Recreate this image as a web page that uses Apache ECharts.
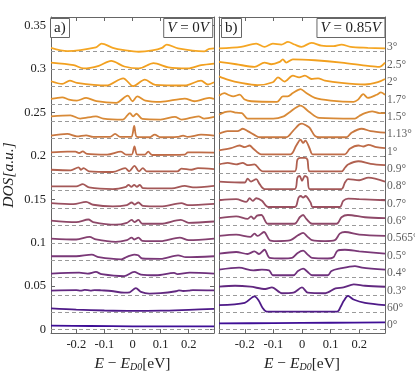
<!DOCTYPE html>
<html>
<head>
<meta charset="utf-8">
<script src="https://cdn.jsdelivr.net/npm/echarts@6/dist/echarts.min.js"></script>
<style>
html, body { margin: 0; padding: 0; background: #fff; }
#main { width: 415px; height: 377px; }
</style>
</head>
<body>
<div id="main"></div>
<script>
// twist angles, bottom to top, and vertical shift of each curve
var angles = ['0°', '60°', '0.3°', '0.4°', '0.5°', '0.565°', '0.6°', '0.7°', '0.8°', '0.9°', '1°', '1.13°', '1.5°', '1.7°', '2°', '2.5°', '3°'];
var offsets = [0, 0.02, 0.04, 0.06, 0.08, 0.10, 0.12, 0.14, 0.16, 0.18, 0.20, 0.22, 0.24, 0.26, 0.28, 0.30, 0.32];
var colors = ['#3e0e96', '#4e1a88', '#622880', '#6e307c', '#7a3878', '#844070', '#8e4868', '#9a5060', '#a45858',
  '#b0604f', '#bf6c48', '#c97840', '#d88a38', '#e0902e', '#ee9b22', '#f2a01e', '#f5a623'];

var xTicks = [-0.2, -0.1, 0, 0.1, 0.2];
var yTicks = [0, 0.05, 0.1, 0.15, 0.2, 0.25, 0.3, 0.35];

// a) V = 0V : [E, DOS above its baseline]
var L_0 = [[-0.29, 0.0045], [-0.15, 0.0042], [0, 0.0038], [0.15, 0.0038], [0.29, 0.0038]];
var L_60 = [[-0.29, 0.0045], [-0.2, 0.003], [-0.1, 0.002], [0, 0.0015], [0.1, 0.0018], [0.2, 0.0028], [0.29, 0.0038]];
var L_03 = [[-0.29, 0.005], [-0.2, 0.0055], [-0.185, 0.0048], [-0.17, 0.0058], [-0.15, 0.005], [-0.135, 0.0056], [-0.11, 0.0052],
  [-0.075, 0.0045], [-0.03, 0.0025], [-0.01, 0.003], [0.012, 0.0078], [0.03, 0.0035], [0.06, 0.0015], [0.1, 0.002],
  [0.155, 0.0042], [0.165, 0.0052], [0.18, 0.0045], [0.2, 0.0048], [0.215, 0.0055], [0.29, 0.0052]];
var L_04 = [[-0.29, 0.0045], [-0.19, 0.0056], [-0.16, 0.0045], [-0.13, 0.0064], [-0.11, 0.0038], [-0.03, 0.0015], [0.006, 0.0064],
  [0.03, 0.0034], [0.085, 0.0026], [0.148, 0.0053], [0.16, 0.0038], [0.203, 0.0056], [0.29, 0.0045]];
var L_05 = [[-0.29, 0.0045], [-0.2, 0.0045], [-0.145, 0.0064], [-0.12, 0.0034], [-0.04, 0.001], [-0.02, 0.0038], [0.006, 0.0064],
  [0.02, 0.0056], [0.035, 0.0019], [0.1, 0.0015], [0.162, 0.0056], [0.19, 0.0034], [0.29, 0.0045]];
var L_0565 = [[-0.29, 0.0049], [-0.2, 0.0038], [-0.153, 0.0068], [-0.13, 0.0038], [-0.06, 0.0011], [-0.02, 0.003], [-0.003, 0.006],
  [0.007, 0.0038], [0.021, 0.006], [0.035, 0.0023], [0.1, 0.0019], [0.168, 0.006], [0.2, 0.003], [0.29, 0.0049]];
var L_06 = [[-0.29, 0.0056], [-0.2, 0.0038], [-0.157, 0.0068], [-0.14, 0.0038], [-0.06, 0.0008], [-0.02, 0.003], [-0.003, 0.0064],
  [0.007, 0.0038], [0.021, 0.0064], [0.035, 0.0019], [0.1, 0.0019], [0.172, 0.0064], [0.2, 0.003], [0.29, 0.0045]];
var L_07 = [[-0.29, 0.0056], [-0.21, 0.0045], [-0.165, 0.0071], [-0.14, 0.0038], [-0.07, 0.0019], [-0.02, 0.0034], [-0.003, 0.0064],
  [0.007, 0.0041], [0.021, 0.0064], [0.037, 0.0026], [0.1, 0.0019], [0.174, 0.0056], [0.197, 0.0034], [0.29, 0.0049]];
var L_08 = [[-0.29, 0.0049], [-0.2, 0.0049], [-0.177, 0.0075], [-0.155, 0.0038], [-0.07, 0.0019], [-0.023, 0.0045], [-0.014, 0.0068],
  [-0.004, 0.0045], [0.006, 0.0068], [0.016, 0.0045], [0.026, 0.0068], [0.037, 0.003], [0.14, 0.0026], [0.186, 0.0056],
  [0.215, 0.0038], [0.29, 0.0056]];
var L_09 = [[-0.29, 0.0041], [-0.22, 0.0034], [-0.192, 0.0068], [-0.183, 0.0041], [-0.174, 0.006], [-0.155, 0.0023], [-0.07, 0.0015],
  [-0.026, 0.006], [-0.012, 0.0023], [0.007, 0.0086], [0.023, 0.0023], [0.037, 0.006], [0.05, 0.0023], [0.16, 0.0023],
  [0.174, 0.0053], [0.21, 0.0041], [0.233, 0.006], [0.29, 0.0049]];
var L_1 = [[-0.29, 0.0041], [-0.232, 0.0049], [-0.203, 0.0049], [-0.19, 0.0034], [-0.177, 0.0053], [-0.162, 0.0023], [-0.09, 0.0015],
  [-0.041, 0.0049], [-0.023, 0.0015], [-0.003, 0.0015], [0.007, 0.0109], [0.017, 0.0015], [0.044, 0.0015], [0.056, 0.0049],
  [0.07, 0.0011], [0.186, 0.0015], [0.197, 0.0041], [0.29, 0.0038]];
var L_113 = [[-0.29, 0.0034], [-0.232, 0.0053], [-0.198, 0.0026], [-0.165, 0.0038], [-0.14, 0.0019], [-0.08, 0.0019], [-0.062, 0.0053],
  [-0.044, 0.0019], [-0.005, 0.0019], [0.006, 0.0147], [0.016, 0.0019], [0.06, 0.0015], [0.079, 0.0045], [0.1, 0.0015],
  [0.16, 0.0019], [0.18, 0.0034], [0.197, 0.0019], [0.244, 0.0045], [0.29, 0.0034]];
var L_15 = [[-0.29, 0.0056], [-0.221, 0.0068], [-0.186, 0.003], [-0.13, 0.0056], [-0.104, 0.003], [-0.035, 0.0019], [-0.009, 0.0094],
  [0.002, 0.0056], [0.014, 0.0086], [0.035, 0.0026], [0.1, 0.0019], [0.151, 0.0049], [0.175, 0.0019], [0.235, 0.0056],
  [0.255, 0.003], [0.29, 0.0049]];
var L_17 = [[-0.29, 0.0056], [-0.25, 0.0075], [-0.226, 0.0049], [-0.198, 0.0038], [-0.165, 0.0068], [-0.128, 0.003], [-0.058, 0.0011],
  [-0.017, 0.0094], [0, 0.003], [0.017, 0.0086], [0.046, 0.0038], [0.1, 0.0023], [0.186, 0.006], [0.22, 0.003],
  [0.273, 0.0068], [0.29, 0.0056]];
var L_2 = [[-0.29, 0.006], [-0.25, 0.003], [-0.223, 0.0068], [-0.198, 0.0041], [-0.093, 0.0011], [-0.033, 0.0094], [0.002, 0.0004],
  [0.044, 0.0079], [0.081, 0.0019], [0.186, 0.0011], [0.244, 0.0068], [0.267, 0.0023], [0.29, 0.0049]];
var L_25 = [[-0.29, 0.0075], [-0.209, 0.0045], [-0.174, 0.0008], [-0.12, 0.0038], [-0.076, 0.0094], [-0.029, 0.003], [0.023, 0.0008],
  [0.075, 0.0068], [0.128, 0.0019], [0.197, 0.0008], [0.244, 0.0045], [0.29, 0.0064]];
var L_3 = [[-0.29, 0.0045], [-0.232, 0.0008], [-0.13, 0.005], [-0.11, 0.0094], [-0.07, 0.0045], [-0.03, 0.0019], [0.022, 0],
  [0.07, 0.0015], [0.105, 0.0045], [0.122, 0.0083], [0.162, 0.0038], [0.255, 0.0004], [0.273, 0.0034], [0.29, 0.0038]];

// b) V = 0.85V
var R_0 = [[-0.29, 0.0071], [-0.1, 0.0075], [0.1, 0.0079], [0.29, 0.0083]];
var R_60 = [[-0.29, 0.0083], [-0.2, 0.0109], [-0.166, 0.0184], [-0.152, 0.0139], [-0.138, 0.0053], [-0.123, 0.0008], [0.123, 0.0008],
  [0.135, 0.0064], [0.146, 0.0132], [0.161, 0.0188], [0.18, 0.0147], [0.22, 0.0109], [0.29, 0.0083]];
var R_03 = [[-0.29, 0.0094], [-0.234, 0.0105], [-0.18, 0.0094], [-0.128, 0.0068], [-0.105, 0.0086], [-0.07, 0.0019], [-0.03, 0.0026],
  [0, 0.0086], [0.02, 0.0026], [0.082, 0.0019], [0.117, 0.0075], [0.145, 0.0086], [0.181, 0.012], [0.22, 0.0105], [0.29, 0.0094]];
var R_04 = [[-0.29, 0.009], [-0.22, 0.0113], [-0.17, 0.0083], [-0.14, 0.009], [-0.115, 0.0083], [-0.102, 0.0026], [-0.03, 0.0026],
  [-0.014, 0.0075], [0.004, 0.0102], [0.02, 0.0064], [0.035, 0.0026], [0.09, 0.0026], [0.103, 0.0075], [0.13, 0.0102],
  [0.185, 0.0132], [0.21, 0.0113], [0.29, 0.009]];
var R_05 = [[-0.29, 0.0075], [-0.23, 0.0094], [-0.19, 0.0071], [-0.166, 0.0102], [-0.15, 0.0071], [-0.131, 0.012], [-0.113, 0.0026],
  [-0.07, 0.0019], [-0.035, 0.0026], [-0.015, 0.0083], [0.004, 0.0109], [0.02, 0.0064], [0.035, 0.0026], [0.09, 0.0019],
  [0.11, 0.0034], [0.124, 0.0109], [0.15, 0.012], [0.2, 0.0102], [0.29, 0.0075]];
var R_0565 = [[-0.29, 0.0079], [-0.23, 0.0094], [-0.18, 0.0068], [-0.166, 0.0105], [-0.155, 0.0079], [-0.133, 0.0124], [-0.113, 0.003],
  [-0.09, 0.0019], [-0.04, 0.003], [-0.014, 0.0086], [0.004, 0.0113], [0.02, 0.0068], [0.035, 0.003], [0.08, 0.0019],
  [0.115, 0.003], [0.132, 0.0105], [0.15, 0.0124], [0.2, 0.0094], [0.29, 0.0079]];
var R_06 = [[-0.29, 0.0083], [-0.23, 0.0105], [-0.19, 0.0075], [-0.178, 0.0105], [-0.168, 0.0075], [-0.157, 0.0113], [-0.142, 0.012],
  [-0.119, 0.0019], [-0.026, 0.0019], [-0.008, 0.0094], [0.004, 0.012], [0.015, 0.0075], [0.035, 0.0019], [0.121, 0.0019],
  [0.138, 0.0094], [0.16, 0.012], [0.22, 0.0094], [0.29, 0.0083]];
var R_07 = [[-0.29, 0.009], [-0.23, 0.0102], [-0.195, 0.0071], [-0.183, 0.0113], [-0.172, 0.0083], [-0.16, 0.0113], [-0.14, 0.0083],
  [-0.119, 0.0012], [-0.025, 0.0012], [-0.012, 0.012], [-0.004, 0.0139], [0.004, 0.012], [0.012, 0.0139], [0.03, 0.0064],
  [0.037, 0.0012], [0.132, 0.0012], [0.144, 0.0083], [0.161, 0.0109], [0.2, 0.0102], [0.29, 0.009]];
var R_08 = [[-0.29, 0.0105], [-0.2, 0.0094], [-0.19, 0.0139], [-0.178, 0.0105], [-0.16, 0.0132], [-0.148, 0.0075], [-0.131, 0.0019],
  [-0.026, 0.0019], [-0.016, 0.015], [-0.008, 0.0169], [0, 0.0113], [0.01, 0.0169], [0.019, 0.015], [0.027, 0.0019],
  [0.138, 0.0019], [0.15, 0.0094], [0.161, 0.0132], [0.2, 0.012], [0.232, 0.015], [0.29, 0.0105]];
var R_09 = [[-0.29, 0.0102], [-0.26, 0.012], [-0.23, 0.0102], [-0.207, 0.012], [-0.19, 0.0094], [-0.166, 0.0102], [-0.148, 0.0045],
  [-0.137, 0.0022], [-0.026, 0.0022], [-0.016, 0.0158], [-0.005, 0.0177], [0.01, 0.0177], [0.019, 0.0158], [0.027, 0.0022],
  [0.138, 0.0022], [0.15, 0.0064], [0.161, 0.0102], [0.197, 0.0139], [0.24, 0.0109], [0.29, 0.0094]];
var R_1 = [[-0.29, 0.0064], [-0.248, 0.009], [-0.218, 0.012], [-0.2, 0.0102], [-0.183, 0.012], [-0.17, 0.0083], [-0.142, 0.0019],
  [-0.04, 0.0019], [-0.02, 0.012], [-0.005, 0.0188], [0.004, 0.015], [0.012, 0.0177], [0.027, 0.0083], [0.037, 0.0019],
  [0.15, 0.0019], [0.167, 0.0083], [0.197, 0.012], [0.215, 0.0109], [0.232, 0.0128], [0.26, 0.0102], [0.29, 0.009]];
var R_113 = [[-0.29, 0.0056], [-0.26, 0.0086], [-0.225, 0.0086], [-0.207, 0.0113], [-0.19, 0.0086], [-0.16, 0.003], [-0.148, 0.0015],
  [-0.055, 0.0015], [-0.032, 0.0086], [-0.01, 0.0162], [0, 0.0173], [0.015, 0.015], [0.027, 0.0124], [0.045, 0.003],
  [0.06, 0.0015], [0.156, 0.0015], [0.173, 0.0068], [0.208, 0.0113], [0.24, 0.0086], [0.29, 0.0068]];
var R_15 = [[-0.29, 0.0075], [-0.27, 0.0105], [-0.25, 0.0113], [-0.23, 0.0098], [-0.21, 0.0094], [-0.19, 0.003], [-0.1, 0.003],
  [-0.064, 0.0056], [-0.047, 0.0094], [-0.005, 0.018], [0.023, 0.0113], [0.06, 0.0038], [0.185, 0.003], [0.2, 0.006],
  [0.22, 0.0094], [0.245, 0.0113], [0.27, 0.0094], [0.29, 0.0094]];
var R_17 = [[-0.29, 0.0094], [-0.271, 0.0124], [-0.258, 0.0105], [-0.24, 0.0086], [-0.218, 0.0105], [-0.2, 0.0049], [-0.177, 0.003],
  [-0.087, 0.0023], [-0.067, 0.0086], [-0.05, 0.0086], [-0.032, 0.0124], [-0.005, 0.0169], [0.015, 0.0124], [0.045, 0.0068],
  [0.1, 0.0038], [0.18, 0.0023], [0.196, 0.0049], [0.214, 0.0113], [0.23, 0.0068], [0.261, 0.0105], [0.276, 0.0132],
  [0.29, 0.0105]];
var R_2 = [[-0.29, 0.0117], [-0.26, 0.0079], [-0.213, 0.0041], [-0.155, 0.0015], [-0.102, 0.0049], [-0.084, 0.0105], [-0.061, 0.0056],
  [-0.032, 0.0124], [-0.01, 0.0105], [0.01, 0.0124], [0.033, 0.0086], [0.056, 0.0094], [0.08, 0.0068], [0.138, 0.0041],
  [0.22, 0.0023], [0.265, 0.0049], [0.29, 0.0086]];
var R_25 = [[-0.29, 0.0083], [-0.23, 0.0056], [-0.166, 0.0026], [-0.131, 0.0075], [-0.107, 0.0056], [-0.078, 0.0083], [-0.067, 0.0113],
  [-0.055, 0.0075], [-0.032, 0.0113], [0.045, 0.0102], [0.138, 0.0075], [0.23, 0.0038], [0.27, 0.0026], [0.29, 0.0075]];
var R_3 = [[-0.29, 0.0038], [-0.213, 0.0056], [-0.16, 0.0094], [-0.131, 0.0056], [-0.102, 0.0094], [-0.072, 0.0083], [-0.049, 0.0113],
  [-0.026, 0.0083], [-0.002, 0.0056], [0.033, 0.0102], [0.068, 0.0071], [0.11, 0.0064], [0.138, 0.0083], [0.17, 0.0056],
  [0.23, 0.0045], [0.29, 0.0038]];

var leftCurves = [L_0, L_60, L_03, L_04, L_05, L_0565, L_06, L_07, L_08, L_09, L_1, L_113, L_15, L_17, L_2, L_25, L_3];
var rightCurves = [R_0, R_60, R_03, R_04, R_05, R_0565, R_06, R_07, R_08, R_09, R_1, R_113, R_15, R_17, R_2, R_25, R_3];

var myChart = echarts.init(document.getElementById('main'));

var serif = 'Liberation Serif';
var frame = '#666';

function xAxisFor(grid, pos, labels, name) {
  return {
    type: 'value', gridIndex: grid, position: pos, min: -0.29, max: 0.29,
    axisLine: { show: true, onZero: false, lineStyle: { color: frame, width: 1 } },
    axisTick: { show: true, inside: true, length: 4, customValues: xTicks, lineStyle: { color: frame } },
    axisLabel: {
      show: labels, customValues: xTicks, margin: 5, fontFamily: serif, fontSize: 12.5, color: '#222',
      formatter: function (v) { return String(Math.round(v * 10) / 10); }
    },
    splitLine: { show: false },
    name: name ? '{i|E} − {i|E}{s|D0}[eV]' : '',
    nameLocation: 'middle', nameGap: 21,
    nameTextStyle: {
      fontFamily: serif, fontSize: 15.5, color: '#222',
      rich: {
        i: { fontFamily: serif, fontStyle: 'italic', fontSize: 15.5, color: '#222' },
        s: { fontFamily: serif, fontStyle: 'italic', fontSize: 10, color: '#222', verticalAlign: 'bottom', padding: [6, 0, 0, 0] }
      }
    }
  };
}

function yAxisFor(grid, pos, labels, name) {
  return {
    type: 'value', gridIndex: grid, position: pos, min: -0.004, max: 0.36,
    axisLine: { show: true, onZero: false, lineStyle: { color: frame, width: 1 } },
    axisTick: { show: true, inside: true, length: 4, customValues: yTicks, lineStyle: { color: frame } },
    axisLabel: {
      show: labels, customValues: yTicks, margin: 5, fontFamily: serif, fontSize: 12.5, color: '#222',
      formatter: function (v) { return String(Math.round(v * 100) / 100); }
    },
    splitLine: { show: false },
    name: name ? 'DOS[a.u.]' : '',
    nameLocation: 'middle', nameGap: 34, nameRotate: 90,
    nameTextStyle: { fontFamily: serif, fontStyle: 'italic', fontSize: 15.5, color: '#222' }
  };
}

var series = [];
[leftCurves, rightCurves].forEach(function (curves, p) {
  curves.forEach(function (curve, k) {
    series.push({
      type: 'line', xAxisIndex: p, yAxisIndex: p, z: 3,
      data: curve.map(function (pt) { return [pt[0], pt[1] + offsets[k]]; }),
      showSymbol: false, smooth: 0.3, silent: true,
      lineStyle: { color: colors[k], width: 1.8 },
      markLine: {
        silent: true, symbol: 'none', z: 2,
        label: { show: false },
        lineStyle: { color: '#9a9a9a', type: [4, 3], width: 1 },
        data: [{ yAxis: offsets[k] }]
      }
    });
  });
});

series.push({
  type: 'scatter', xAxisIndex: 1, yAxisIndex: 1, symbolSize: 0, silent: true,
  data: angles.map(function (a, k) { return [0.29, offsets[k] + 0.005, a]; }),
  label: {
    show: true, position: 'right', distance: 2,
    fontFamily: serif, fontSize: 11.5, color: '#333',
    formatter: function (p) { return p.value[2]; }
  }
});

var boxStyle = {
  top: 18, padding: [3, 4, 2, 4], borderColor: frame, borderWidth: 1, backgroundColor: '#fff',
  textStyle: {
    fontFamily: serif, fontSize: 15, fontWeight: 'normal', color: '#222',
    rich: { i: { fontFamily: serif, fontStyle: 'italic', fontSize: 15, color: '#222' } }
  }
};

myChart.setOption({
  animation: false,
  backgroundColor: '#fff',
  title: [
    Object.assign({ text: 'a)', left: 50 }, boxStyle),
    Object.assign({ text: '{i|V} = 0{i|V}', right: 202 }, boxStyle),
    Object.assign({ text: 'b)', left: 221 }, boxStyle),
    Object.assign({ text: '{i|V} = 0.85{i|V}', right: 30 }, boxStyle)
  ],
  grid: [
    { left: 48, top: 17, width: 166, height: 322 },
    { left: 219, top: 17, width: 166, height: 322 }
  ],
  xAxis: [
    xAxisFor(0, 'bottom', true, true),
    xAxisFor(1, 'bottom', true, true),
    xAxisFor(0, 'top', false, false),
    xAxisFor(1, 'top', false, false)
  ],
  yAxis: [
    yAxisFor(0, 'left', true, true),
    yAxisFor(1, 'left', false, false),
    yAxisFor(0, 'right', false, false),
    yAxisFor(1, 'right', false, false)
  ],
  series: series
});
</script>
</body>
</html>
